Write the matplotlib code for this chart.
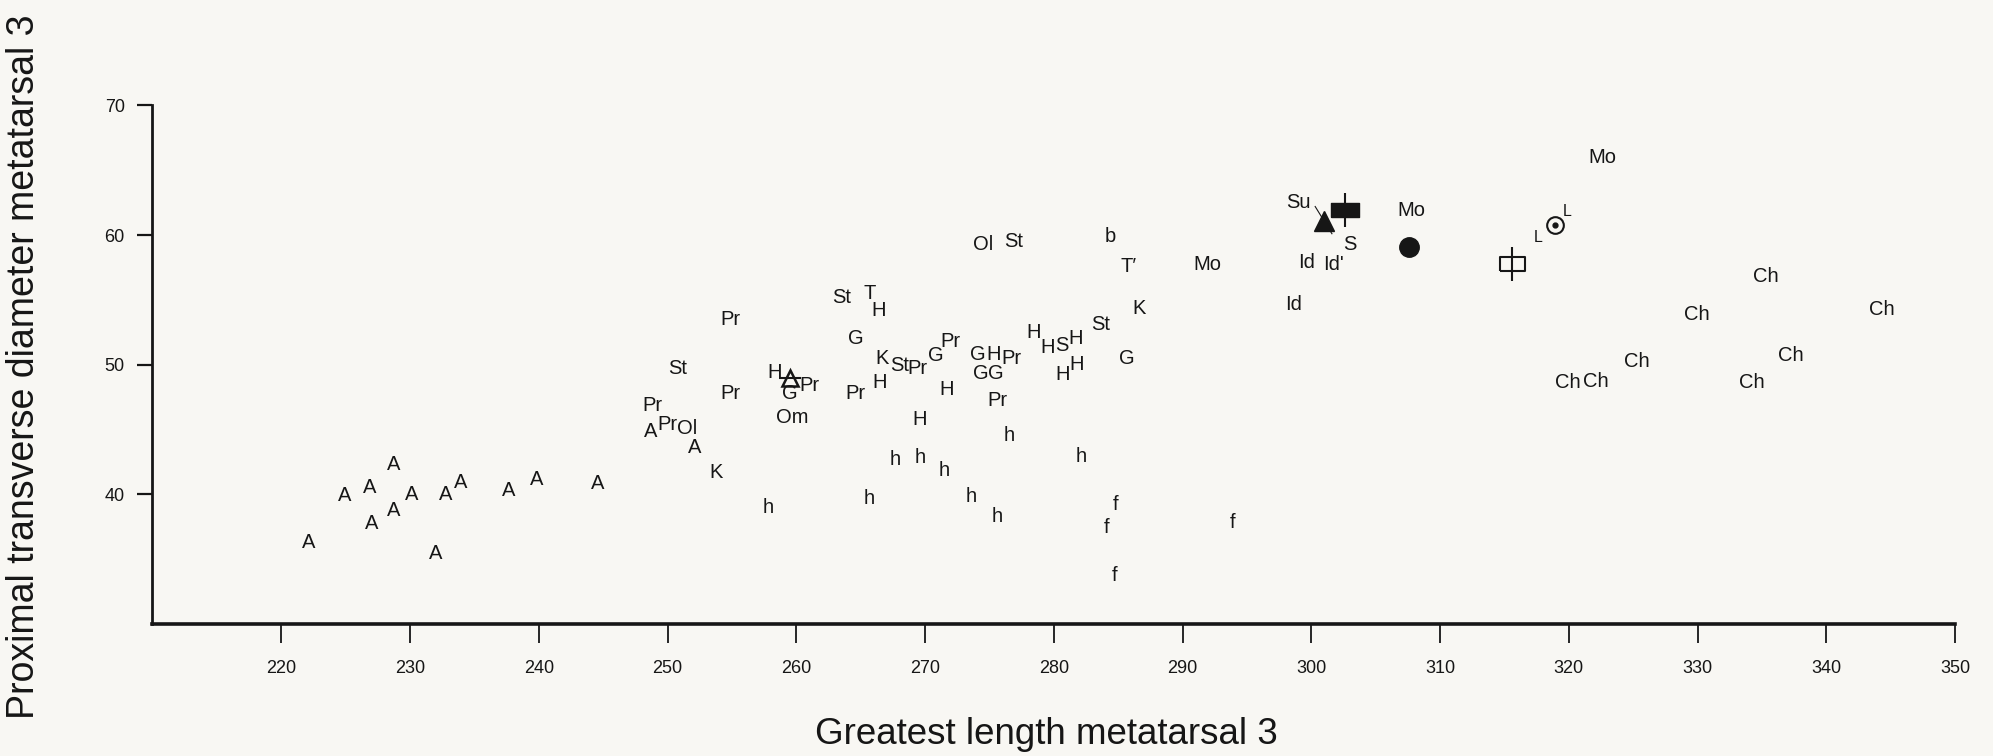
import matplotlib
matplotlib.use("Agg")
from matplotlib import pyplot as plt

# Greatest length (x) / proximal transverse diameter (y) of metatarsal 3
# taxon code, length, diameter
codes = ["A", "A", "A", "A", "A", "A", "A", "A", "A", "A", "A", "A", "A", "A", "A",
         "Pr", "St", "Pr", "Pr", "Pr", "Ol", "K", "H", "G", "Pr", "Om", "h",
         "St", "T", "H", "G", "Pr", "K", "St", "Pr", "H", "G", "Pr", "H", "H",
         "G", "H", "G", "G", "Pr", "Pr", "h", "h", "h", "h", "h", "h", "h",
         "H", "H", "S", "H", "H", "H", "h",
         "Ol", "St", "St", "G", "K", "T\u2032", "b", "Mo", "Su", "S", "Id", "Id'", "Id", "Mo",
         "f", "f", "f", "f",
         "Mo", "Ch", "Ch", "Ch", "Ch", "Ch", "Ch", "Ch", "Ch"]
length = [222.1, 224.9, 226.9, 228.7, 230.1, 228.7, 227.0, 232.0, 232.8, 233.9, 237.7, 239.8, 244.6, 248.7, 252.1,
          254.9, 250.8, 254.9, 248.8, 250.0, 251.5, 253.8, 258.3, 259.5, 261.0, 259.7, 257.8,
          263.5, 265.7, 266.4, 264.6, 264.6, 266.7, 268.0, 269.4, 266.5, 270.8, 272.0, 271.7, 269.6,
          274.1, 275.3, 274.3, 275.5, 276.7, 275.6, 276.5, 267.7, 269.6, 271.5, 265.7, 273.6, 275.6,
          278.4, 279.5, 280.6, 281.7, 280.7, 281.8, 282.1,
          274.5, 276.9, 283.6, 285.7, 286.6, 285.8, 284.4, 291.9, 299.0, 303.0, 299.6, 301.7, 298.6, 307.8,
          284.8, 284.1, 293.9, 284.7,
          322.6, 335.3, 329.9, 344.3, 325.3, 337.2, 319.9, 322.1, 334.2]
diam = [36.3, 39.9, 40.5, 42.3, 40.0, 38.7, 37.7, 35.4, 40.0, 40.9, 40.3, 41.1, 40.8, 44.8, 43.6,
        53.5, 49.7, 47.75, 46.85, 45.4, 45.05, 41.65, 49.4, 47.75, 48.4, 45.9, 39.0,
        55.2, 55.5, 54.2, 52.0, 47.8, 50.5, 49.9, 49.7, 48.65, 50.7, 51.8, 48.1, 45.75,
        50.75, 50.75, 49.35, 49.35, 50.5, 47.2, 44.5, 42.7, 42.8, 41.8, 39.7, 39.8, 38.25,
        52.45, 51.3, 51.5, 52.0, 49.2, 50.0, 42.9,
        59.3, 59.5, 53.1, 50.5, 54.3, 57.6, 59.9, 57.7, 62.5, 59.3, 57.9, 57.7, 54.6, 61.9,
        39.2, 37.4, 37.8, 33.7,
        66.0, 56.8, 53.9, 54.25, 50.2, 50.7, 48.6, 48.7, 48.65]

# small L labels next to the dotted circle
small_codes = ["L", "L"]
small_length = [319.9, 317.6]
small_diam = [61.8, 59.8]

# single specimens drawn as symbols
open_tri = (259.5, 49.0)
filled_tri = (300.95, 61.1)
filled_rect = (302.6, 61.9)
filled_circ = (307.6, 59.05)
open_rect = (315.6, 57.8)
dot_circ = (318.9, 60.8)
su_line_x = [300.3, 301.6]
su_line_y = [62.2, 60.1]

x_ticks = [220, 230, 240, 250, 260, 270, 280, 290, 300, 310, 320, 330, 340, 350]
y_ticks = [40, 50, 60, 70]

paper = "#f8f7f3"
ink = "#161616"
fam = ["Liberation Sans", "DejaVu Sans"]
plt.rcParams["font.family"] = fam

fig = plt.figure(figsize=(19.93, 7.56), dpi=100, facecolor=paper)
ax = fig.add_axes([0.0765, 0.175, 0.9045, 0.6855], facecolor=paper)

for s, x, y in zip(codes, length, diam):
    ax.text(x, y, s, ha="center", va="center", fontsize=14.5, color=ink)
for s, x, y in zip(small_codes, small_length, small_diam):
    ax.text(x, y, s, ha="center", va="center", fontsize=11.5, color=ink)

# symbols
ax.plot(*open_tri, marker="^", ms=12, mfc="none", mec=ink, mew=1.8)
ax.plot(*open_tri, marker="_", ms=16, mec=ink, mew=1.5)
ax.plot(*filled_tri, marker="^", ms=14, color=ink)
ax.plot(su_line_x, su_line_y, color=ink, lw=0.8)
rect2 = [(-1, -0.48), (1, -0.48), (1, 0.48), (-1, 0.48), (-1, -0.48)]
ax.plot(*filled_rect, marker=rect2, ms=20, color=ink)
ax.plot(*filled_rect, marker="|", ms=24, mec=ink, mew=1.5)
ax.plot(*filled_circ, marker="o", ms=14, color=ink)
rect_open = [(-1, -0.58), (1, -0.58), (1, 0.58), (-1, 0.58), (-1, -0.58)]
ax.plot(*open_rect, marker=rect_open, ms=18, mfc="none", mec=ink, mew=1.5)
ax.plot(*open_rect, marker="|", ms=24, mec=ink, mew=1.5)
ax.plot(*dot_circ, marker="o", ms=12, mfc="none", mec=ink, mew=1.5)
ax.plot(*dot_circ, marker="o", ms=3.5, color=ink)

ax.set_xlim(210, 350)
ax.set_ylim(30, 70)
ax.set_xticks(x_ticks)
ax.set_yticks(y_ticks)
ax.spines["top"].set_visible(False)
ax.spines["right"].set_visible(False)
ax.spines["left"].set_linewidth(2.0)
ax.spines["bottom"].set_linewidth(2.6)
ax.spines["left"].set_color(ink)
ax.spines["bottom"].set_color(ink)
ax.tick_params(axis="y", direction="out", length=11, width=1.6, pad=9, labelsize=13, colors=ink)
ax.tick_params(axis="x", direction="out", length=14, width=1.3, pad=12, labelsize=13, colors=ink)

fig.text(0.525, 0.028, "Greatest length metatarsal 3", ha="center", va="center", fontsize=26.5, color=ink)
fig.text(0.012, 0.515, "Proximal transverse diameter metatarsal 3", ha="center", va="center",
         rotation=90, fontsize=27, color=ink)

fig.savefig("out.png", dpi=100, facecolor=paper)
